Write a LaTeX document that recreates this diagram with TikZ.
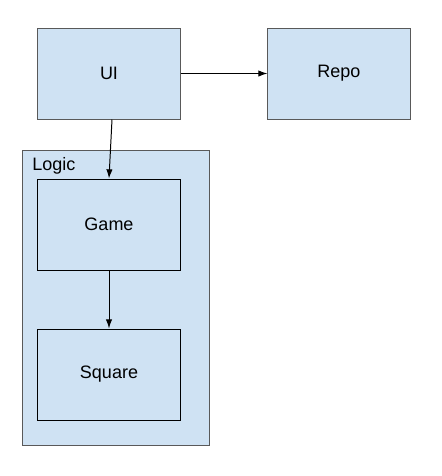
\documentclass[tikz,border=0pt]{standalone}
\usepackage{fontspec}
\setmainfont{Liberation Sans}
\usetikzlibrary{arrows.meta}
\definecolor{boxfill}{HTML}{CFE2F3}
\definecolor{frame}{HTML}{595959}
\begin{document}
\begin{tikzpicture}[>={Latex[length=6.5pt,width=4.5pt]}, x=0.025cm, y=-0.025cm, font=\fontsize{12.8}{15}\selectfont]
        \tikzset{box/.style={draw, fill=boxfill, line width=0.7pt, minimum width=3.55cm, minimum height=2.275cm, align=center, inner sep=0pt}}
        \useasboundingbox (0,0) rectangle (442,476);
        \node[draw=frame, fill=boxfill, line width=0.7pt, minimum width=4.675cm, minimum height=7.375cm, inner sep=0pt] (logic) at (116,298) {};
        \node[anchor=base west, inner sep=0pt] (logictitle) at (32,170.5) {Logic};
        \node[box, draw=frame] (ui) at (109,73.5) {UI};
        \node[box, draw=frame] (repo) at (339,73.5) {Repo};
        \node[box] (game) at (109,224.5) {Game};
        \node[box] (square) at (109,374.5) {Square};
        \draw[->, line width=0.7pt] (ui) -- (repo);
        \draw[->, line width=0.7pt] ([xshift=0.075cm]ui.south) -- (game.north);
        \draw[->, line width=0.7pt] (game) -- (square);
    \end{tikzpicture}
\end{document}
